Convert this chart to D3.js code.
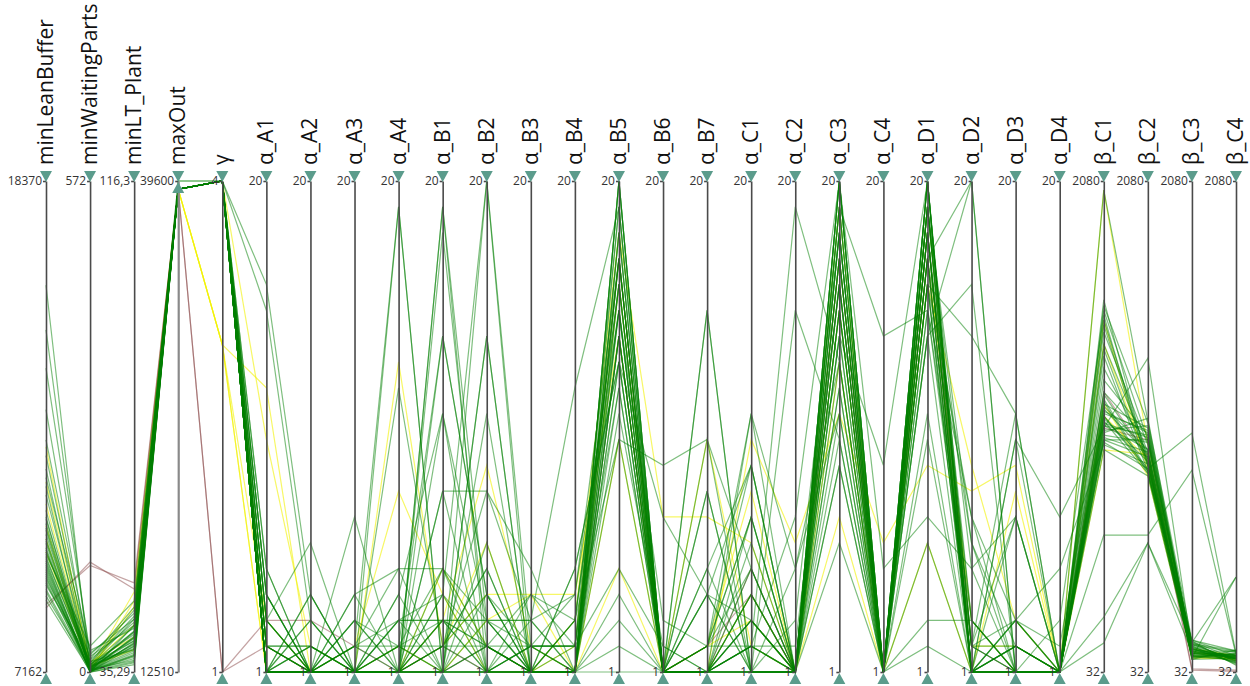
<!doctype html>
<html>
<head>
	<meta charset="utf-8">
	<title>parallel coordinates</title>
	<style>
		body { margin: 0; background: #fff; }
		.axis text { font-family: "Open Sans", sans-serif; font-size: 12px; fill: #333; }
		.axis text.axis-title { font-family: "Open Sans", sans-serif; font-size: 21px; fill: #111; }
		.axis path, .axis line { stroke: #4a4a4a; stroke-width: 1.6; }
		.axis path.handle { fill: #5b9c8c; stroke: none; }
		.run { fill: none; stroke-width: 1.2; }
	</style>
</head>
<body>
	<svg width="1250" height="686"></svg>

	<script src="https://d3js.org/d3.v7.min.js"></script>
	<script>

		// axes
		const dims = [ "minLeanBuffer", "minWaitingParts", "minLT_Plant", "maxOut", "γ",
			"α_A1", "α_A2", "α_A3", "α_A4", "α_B1", "α_B2", "α_B3", "α_B4", "α_B5", "α_B6", "α_B7",
			"α_C1", "α_C2", "α_C3", "α_C4", "α_D1", "α_D2", "α_D3", "α_D4",
			"β_C1", "β_C2", "β_C3", "β_C4" ];

		const lows  = [ 7162, 0, 35.29, 12510, 1, 1,1,1,1, 1,1,1,1,1,1,1, 1,1,1,1, 1,1,1,1, 32,32,32,32 ];
		const highs = [ 18370, 572, 116.3, 39600, 4, 20,20,20,20, 20,20,20,20,20,20,20, 20,20,20,20, 20,20,20,20, 2080,2080,2080,2080 ];

		const lowLabels  = [ "7162", "0", "35,29", "12510", "1", "1","1","1","1", "1","1","1","1","1","1","1", "1","1","1","1", "1","1","1","1", "32","32","32","32" ];
		const highLabels = [ "18370", "572", "116,3", "39600", "4", "20","20","20","20", "20","20","20","20","20","20","20", "20","20","20","20", "20","20","20","20", "2080","2080","2080","2080" ];

		// one entry per run: 42 green, 6 yellow, 2 brown
		const runColor = d3.range( 50 ).map( i => i < 42 ? "green" : ( i < 48 ? "yellow" : "brown" ) );

		const minLeanBuffer = [ 10400, 9800, 15990, 9300, 11200, 10100, 9600, 12460, 8900, 10700, 9950, 9250, 14970, 10300, 9500, 11600, 9050, 10000, 9700, 13150, 10550, 9400, 9150, 10850, 8800, 9850, 11400, 10200, 9550, 12100, 9350, 10650, 9000, 9900, 11800, 9650, 10450, 9200, 14100, 9450, 10150, 9750,
			12300, 11000, 10500, 11500, 9900, 10200, 8620, 8700 ];
		const minWaitingParts = [ 2, 5, 0, 8, 12, 3, 1, 20, 4, 0, 6, 2, 15, 9, 1, 25, 3, 7, 0, 10, 4, 2, 14, 5, 1, 30, 0, 6, 3, 11, 2, 8, 0, 18, 4, 1, 7, 3, 22, 0, 5, 9,
			4, 8, 2, 12, 6, 1, 128, 124 ];
		const minLT_Plant = [ 40, 42, 38, 44, 39, 41, 37.5, 45, 40.5, 43, 39.5, 38.5, 46, 41.5, 37, 42.5, 40, 39, 36.5, 44.5, 41, 38, 43.5, 39.8, 37.8, 47, 40.2, 42, 38.8, 45.5, 41.2, 39.2, 36.8, 43, 40.8, 38.2, 42.8, 37.2, 44, 39.6, 41.8, 40.4,
			48.5, 43, 46, 41, 39, 47, 49, 50 ];
		const maxOut = [ 39600, 39150, 39150, 39150, 39150, 39150, 39150, 39150, 39150, 39600, 39150, 39150, 39150, 39150, 39150, 39150, 39150, 39150, 39150, 39150, 39150, 39150, 39150, 39150, 39150, 39150, 39150, 39150, 39150, 39150, 39150, 39150, 39150, 39150, 39150, 39150, 39150, 39150, 39150, 39150, 39150, 39150,
			39150, 39150, 39150, 39150, 39150, 39150, 39150, 39150 ];
		const gamma = [ 4,4,4,4,4,4,4,4,4,4, 4,4,4,4,4,4,4,4,4,4, 4,4,4,4,4,4,4,4,4,4, 4,4,4,4,4,4,4,4,4,4, 4,4,
			3, 3, 4, 3, 3, 4, 1, 1 ];
		const a_A1 = [ 1, 2, 16, 1, 3, 1, 4, 15, 1, 2, 1, 5, 1, 3, 1, 2, 1, 4, 1, 1, 2, 1, 3, 1, 5, 1, 2, 1, 4, 1, 3, 1, 1, 2, 1, 1, 3, 1, 2, 1, 4, 1,
			12, 1, 10, 3, 1, 2, 3, 2 ];
		const a_A2 = [ 1, 1, 4, 1, 6, 1, 1, 3, 1, 2, 1, 1, 4, 1, 1, 2, 1, 1, 3, 1, 1, 2, 1, 1, 1, 2, 1, 1, 1, 3, 1, 1, 1, 1, 2, 1, 1, 4, 1, 1, 1, 1,
			1, 1, 2, 1, 1, 1, 3, 1 ];
		const a_A3 = [ 1, 2, 1, 1, 1, 4, 1, 1, 7, 1, 3, 1, 1, 2, 1, 1, 4, 1, 1, 1, 2, 1, 1, 3, 1, 1, 1, 1, 2, 1, 1, 1, 1, 3, 1, 1, 1, 1, 2, 1, 1, 1,
			1, 2, 1, 1, 1, 1, 2, 1 ];
		const a_A4 = [ 1, 19, 2, 12, 1, 5, 1, 3, 1, 19, 2, 1, 4, 1, 1, 3, 1, 2, 1, 1, 5, 1, 2, 1, 1, 3, 1, 1, 2, 1, 1, 4, 1, 1, 1, 2, 1, 1, 3, 1, 1, 1,
			13, 8, 1, 2, 1, 1, 1, 1 ];
		const a_B1 = [ 19, 1, 14, 2, 18, 1, 8, 3, 11, 1, 5, 2, 1, 4, 19, 3, 1, 2, 14, 1, 5, 3, 1, 8, 2, 1, 4, 1, 3, 1, 2, 11, 1, 5, 3, 1, 2, 1, 4, 1, 3, 1,
			2, 4, 3, 1, 5, 2, 1, 2 ];
		const a_B2 = [ 1, 20, 4, 8, 2, 14, 8, 1, 3, 11, 2, 5, 1, 20, 3, 2, 6, 1, 4, 2, 1, 3, 14, 1, 2, 4, 1, 3, 1, 2, 5, 1, 1, 3, 2, 1, 4, 1, 2, 1, 3, 1,
			4, 1, 9, 3, 2, 6, 2, 1 ];
		const a_B3 = [ 1, 2, 1, 3, 1, 1, 5, 2, 1, 1, 4, 1, 2, 1, 3, 1, 1, 2, 1, 1, 1, 3, 1, 2, 1, 1, 4, 1, 1, 2, 1, 1, 3, 1, 1, 1, 2, 1, 1, 1, 2, 1,
			4, 1, 2, 4, 1, 1, 1, 1 ];
		const a_B4 = [ 1, 1, 2, 12, 1, 3, 1, 1, 5, 1, 2, 1, 4, 1, 1, 3, 1, 2, 1, 1, 1, 4, 1, 2, 1, 1, 3, 1, 1, 2, 1, 1, 1, 5, 1, 1, 2, 1, 1, 3, 1, 1,
			1, 3, 1, 4, 2, 1, 1, 1 ];
		const a_B5 = [ 20, 17, 15, 19, 14, 10, 16, 18, 13, 20, 5, 15, 17, 3, 12, 16, 19, 14, 10, 18, 2, 15, 13, 17, 20, 4, 16, 14, 11, 19, 15, 17, 1, 13, 18, 16, 12, 14, 20, 15, 17, 13,
			16, 18, 10, 14, 17, 5, 17, 14 ];
		const a_B6 = [ 1, 1, 1, 1, 1, 9, 1, 1, 1, 1, 2, 1, 1, 1, 1, 1, 1, 1, 1, 1, 1, 1, 7, 1, 1, 1, 1, 1, 2, 1, 1, 1, 1, 1, 1, 1, 1, 1, 1, 3, 1, 1,
			1, 7, 1, 1, 1, 1, 1, 1 ];
		const a_B7 = [ 1, 15, 4, 1, 2, 10, 1, 8, 1, 5, 1, 2, 1, 4, 1, 1, 15, 2, 1, 1, 8, 1, 4, 1, 2, 1, 1, 10, 1, 1, 5, 1, 2, 1, 1, 4, 1, 1, 1, 2, 1, 1,
			1, 7, 10, 2, 2, 1, 1, 2 ];
		const a_C1 = [ 11, 1, 9, 2, 7, 1, 4, 1, 3, 9, 1, 5, 2, 1, 7, 3, 1, 11, 2, 4, 1, 6, 1, 2, 9, 1, 3, 5, 1, 2, 1, 4, 7, 1, 2, 3, 1, 1, 5, 2, 1, 3,
			10, 6, 2, 8, 3, 4, 5, 4 ];
		const a_C2 = [ 1, 1, 1, 19, 1, 1, 1, 15, 1, 1, 1, 1, 7, 1, 1, 1, 1, 5, 1, 1, 1, 1, 1, 2, 1, 1, 1, 1, 1, 1, 3, 1, 1, 1, 1, 1, 1, 5, 1, 1, 1, 1,
			6, 1, 1, 1, 1, 1, 1, 1 ];
		const a_C3 = [ 20, 18, 16, 13, 19, 17, 20, 10, 15, 12, 18, 14, 20, 9, 17, 16, 19, 11, 15, 20, 13, 18, 14, 16, 6, 19, 17, 12, 20, 15, 18, 10, 16, 14, 19, 17, 9, 13, 20, 18, 15, 11,
			11, 7, 17, 15, 19, 13, 17, 16 ];
		const a_C4 = [ 1, 1, 1, 1, 14, 1, 1, 1, 1, 1, 1, 9, 1, 1, 1, 1, 1, 1, 1, 5, 1, 1, 1, 1, 1, 1, 1, 1, 1, 1, 1, 1, 1, 1, 1, 1, 1, 1, 1, 1, 1, 1,
			6, 1, 1, 1, 1, 1, 1, 1 ];
		const a_D1 = [ 20, 19, 17, 18, 15, 20, 16, 10, 19, 14, 18, 20, 17, 6, 19, 16, 18, 15, 20, 7, 17, 19, 14, 18, 16, 20, 3, 17, 19, 15, 18, 20, 16, 11, 19, 17, 18, 14, 20, 16, 2, 19,
			9, 18, 17, 19, 6, 16, 18, 17 ];
		const a_D2 = [ 1, 2, 20, 1, 3, 1, 7, 1, 2, 16, 1, 1, 6, 1, 3, 14, 1, 2, 1, 5, 1, 1, 20, 1, 2, 1, 3, 1, 1, 7, 1, 2, 1, 1, 5, 1, 3, 1, 2, 1, 1, 6,
			8, 1, 3, 2, 1, 9, 2, 1 ];
		const a_D3 = [ 1, 11, 1, 2, 1, 10, 3, 1, 7, 1, 2, 1, 1, 3, 1, 11, 1, 2, 7, 1, 1, 3, 1, 2, 1, 10, 1, 1, 3, 1, 2, 1, 1, 1, 7, 2, 1, 1, 3, 1, 1, 2,
			9, 8, 1, 2, 1, 3, 1, 1 ];
		const a_D4 = [ 1, 1, 1, 1, 1, 7, 1, 1, 1, 1, 1, 1, 1, 5, 1, 1, 1, 1, 1, 1, 1, 2, 1, 1, 1, 1, 1, 1, 1, 3, 1, 1, 1, 1, 1, 1, 1, 1, 1, 1, 1, 1,
			1, 1, 1, 1, 1, 1, 1, 1 ];
		const b_C1 = [ 1584, 1200, 1100, 2042, 1400, 1050, 990, 1150, 1500, 1020, 1080, 1560, 1130, 980, 1250, 603, 1060, 1380, 1110, 1000, 1540, 1170, 261, 1040, 1090, 1450, 960, 1120, 1010, 1520, 153, 1070, 1190, 1350, 1030, 1140, 1480, 1000, 1100, 1300, 1060, 1160,
			1500, 1400, 958, 1150, 2042, 1100, 1050, 1200 ];
		const b_C2 = [ 900, 1000, 870, 1080, 950, 1341, 880, 1050, 920, 990, 860, 1070, 940, 900, 1020, 603, 960, 890, 1040, 930, 1000, 870, 570, 1060, 910, 980, 850, 1030, 950, 890, 570, 1010, 920, 870, 1090, 960, 900, 1000, 880, 940, 1020, 860,
			870, 900, 940, 850, 980, 920, 1000, 930 ];
		const b_C3 = [ 120, 150, 100, 165, 90, 130, 1029, 110, 140, 85, 160, 125, 95, 145, 115, 874, 105, 135, 155, 90, 120, 100, 165, 130, 110, 145, 95, 125, 150, 105, 115, 140, 85, 160, 120, 100, 135, 110, 155, 95, 130, 115,
			110, 95, 130, 100, 120, 90, 45, 40 ];
		const b_C4 = [ 90, 120, 80, 100, 428, 70, 110, 95, 85, 124, 60, 100, 90, 115, 75, 105, 95, 80, 428, 110, 88, 100, 120, 70, 92, 85, 105, 95, 78, 112, 100, 65, 90, 85, 118, 96, 82, 104, 74, 108, 90, 100,
			95, 85, 100, 90, 80, 88, 40, 35 ];

		const columns = [ minLeanBuffer, minWaitingParts, minLT_Plant, maxOut, gamma,
			a_A1, a_A2, a_A3, a_A4, a_B1, a_B2, a_B3, a_B4, a_B5, a_B6, a_B7,
			a_C1, a_C2, a_C3, a_C4, a_D1, a_D2, a_D3, a_D4,
			b_C1, b_C2, b_C3, b_C4 ];

		const strokes = { green: "#008000", yellow: "#f2f200", brown: "#8b4a4a" };
		const opac = { green: 0.5, yellow: 0.6, brown: 0.5 };

		const svg = d3.select( "svg" );

		const top_y = 181, bottom_y = 672;

		const x = d3.scalePoint()
				.domain( dims )
				.range( [ 46, 1236 ] );

		const y = {};
		dims.forEach( ( d, i ) => {
			y[ d ] = d3.scaleLinear()
					.domain( [ lows[ i ], highs[ i ] ] )
					.range( [ bottom_y, top_y ] );
		});

		const runs = runColor.map( ( c, r ) => {
			return { color: c, values: dims.map( ( d, i ) => columns[ i ][ r ] ) };
		});

		const line = d3.line()
				.x( ( v, i ) => x( dims[ i ] ) )
				.y( ( v, i ) => y[ dims[ i ] ]( v ) );

		// yellow and brown underneath, greens on top
		const order = [ "yellow", "brown", "green" ];
		svg.append( "g" )
			.selectAll( "path" )
			.data( runs.slice().sort( ( a, b ) => order.indexOf( a.color ) - order.indexOf( b.color ) ) )
			.enter().append( "path" )
				.attr( "class", "run" )
				.attr( "d", d => line( d.values ) )
				.attr( "stroke", d => strokes[ d.color ] )
				.attr( "stroke-opacity", d => opac[ d.color ] );

		// axes
		const axis = svg.selectAll( ".axis" )
			.data( dims )
			.enter().append( "g" )
				.attr( "class", "axis" )
				.attr( "transform", d => "translate(" + x( d ) + ",0)" )
				.each( function( d, i ) {
					d3.select( this ).call(
						d3.axisLeft( y[ d ] )
							.tickValues( [ lows[ i ], highs[ i ] ] )
							.tickFormat( ( v, k ) => k === 0 ? lowLabels[ i ] : highLabels[ i ] )
							.tickSize( 3 )
							.tickSizeOuter( 0 )
							.tickPadding( 1 )
					);
				});

		// maxOut is filtered: lighter axis, no handle at its bottom
		axis.filter( d => d === "maxOut" ).select( ".domain" )
			.style( "stroke", "#8a8a8a" )
			.style( "stroke-width", 2.2 );

		// axis titles
		axis.append( "text" )
			.attr( "class", "axis-title" )
			.attr( "transform", "translate(7,165) rotate(-90)" )
			.attr( "text-anchor", "start" )
			.text( d => d );

		// handles
		const tri = 6;
		axis.append( "path" )
			.attr( "class", "handle" )
			.attr( "d", "M" + ( -tri ) + "," + ( top_y - 10 ) + "L" + tri + "," + ( top_y - 10 ) + "L0," + ( top_y + 1 ) + "Z" );

		axis.filter( d => d !== "maxOut" ).append( "path" )
			.attr( "class", "handle" )
			.attr( "d", "M" + ( -tri ) + "," + ( bottom_y + 12 ) + "L" + tri + "," + ( bottom_y + 12 ) + "L0," + ( bottom_y + 1 ) + "Z" );

		axis.filter( d => d === "maxOut" ).append( "path" )
			.attr( "class", "handle" )
			.attr( "d", "M" + ( -tri ) + "," + ( top_y + 12 ) + "L" + tri + "," + ( top_y + 12 ) + "L0," + ( top_y + 1 ) + "Z" );

	</script>
</body>
</html>
